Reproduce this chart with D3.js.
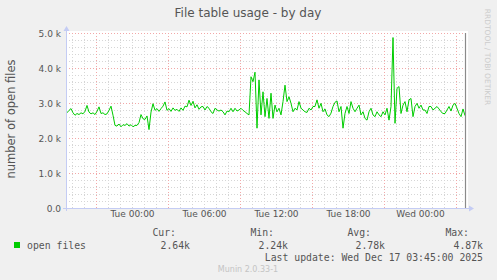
<!DOCTYPE html>
<html><head><meta charset="utf-8">
<script src="https://cdn.jsdelivr.net/npm/d3@7"></script>
<style>
html,body{margin:0;padding:0;background:#F0F0F0;}
svg{display:block;}
</style></head>
<body>
<script>
// ---- data (open files, 10-minute samples, ending Wed Dec 17 03:45) ----
const title = "File table usage - by day";
const yLabel = "number of open files";
const seriesName = "open files";
const lastUpdate = "Wed Dec 17 03:45:00 2025";
const legendHeaders = ["Cur:", "Min:", "Avg:", "Max:"];
const legendValues = ["2.64k", "2.24k", "2.78k", "4.87k"];
const yTicks = [0, 1000, 2000, 3000, 4000, 5000];
const openFiles = [
 2.72,2.79,2.84,2.72,2.65,2.70,2.67,2.72,2.69,2.76,2.93,2.74,2.69,2.72,2.67,2.76,2.89,2.70,2.72,2.67,2.69,2.79,2.91,2.65,2.36,2.34,2.40,2.32,2.38,2.36,2.41,2.34,2.38,2.32,2.36,
 2.36,2.44,2.67,2.55,2.53,2.63,2.24,2.74,2.98,2.79,2.84,2.76,2.84,2.91,3.03,2.79,2.84,2.76,2.86,2.79,2.82,2.76,2.86,2.79,2.91,2.89,3.08,2.93,3.05,2.86,2.95,2.82,2.89,
 2.90,2.80,2.90,2.85,2.75,2.70,2.85,2.80,2.77,2.80,2.75,2.66,2.77,2.75,2.85,2.75,2.85,2.77,2.80,2.85,2.79,2.75,2.70,2.66,3.75,3.61,3.88,2.28,3.66,2.66,3.32,2.61,3.13,
 2.56,3.28,2.56,2.94,2.75,2.85,2.66,3.04,3.51,3.04,3.18,2.99,2.75,2.85,2.80,3.04,2.85,2.80,2.75,2.73,2.85,2.80,2.90,2.90,3.09,2.85,2.99,2.75,2.83,2.66,2.61,2.71,2.90,3.02,3.06,
 2.75,2.90,2.28,2.70,2.90,2.70,3.04,2.85,2.75,2.85,2.94,2.66,2.75,2.56,2.51,2.75,2.85,2.66,2.61,2.75,2.66,2.61,2.75,2.66,2.85,2.51,2.90,4.87,2.42,3.42,3.47,2.70,2.94,3.04,
 2.75,3.09,3.13,2.61,2.90,2.99,2.85,2.94,2.80,2.80,2.70,2.90,2.90,2.80,2.85,2.90,2.83,2.75,2.70,2.70,2.80,2.90,2.77,2.94,2.99,2.85,2.70,2.61,2.83,2.64
];
const endTime = new Date(2025, 11, 17, 3, 45);
const stepMinutes = 10;

// ---- layout ----
const W = 497, H = 280;
const svg = d3.select("body").append("svg").attr("width", W).attr("height", H);
svg.append("rect").attr("width", W).attr("height", H).attr("fill", "#F0F0F0");

const domainStart = new Date(2025, 11, 15, 18, 30);
const domainEnd = new Date(2025, 11, 17, 3, 50);
const x = d3.scaleTime().domain([domainStart, domainEnd]).range([66, 466]);
const y = d3.scaleLinear().domain([0, 5000]).range([208, 33]);

const data = openFiles.map((v, i) => ({
  t: new Date(endTime.getTime() - (openFiles.length - 1 - i) * stepMinutes * 60000),
  v: v * 1000
}));

// canvas
svg.append("rect").attr("x", 66).attr("y", 31).attr("width", 402).attr("height", 177).attr("fill", "#FFFFFF");

const grid = svg.append("g");
d3.range(200, 5000, 200).filter(v => v % 1000 !== 0).forEach(v => {
  grid.append("line").attr("x1", 66).attr("x2", 466).attr("y1", y(v) + 0.5).attr("y2", y(v) + 0.5)
    .attr("stroke", "#D6D6D6").attr("stroke-dasharray", "1,2");
});
const hours = d3.timeHour.range(domainStart, domainEnd);
hours.filter(h => h.getHours() % 6 !== 3).forEach(h => {
  grid.append("line").attr("x1", Math.round(x(h)) + 0.5).attr("x2", Math.round(x(h)) + 0.5).attr("y1", 33).attr("y2", 208)
    .attr("stroke", "#D6D6D6").attr("stroke-dasharray", "1,2");
});
yTicks.filter(v => v > 0).forEach(v => {
  grid.append("line").attr("x1", 66).attr("x2", 466).attr("y1", y(v) + 0.5).attr("y2", y(v) + 0.5)
    .attr("stroke", "#F2A8A8").attr("stroke-dasharray", "1,2");
});
hours.filter(h => h.getHours() % 6 === 3).forEach(h => {
  grid.append("line").attr("x1", Math.round(x(h)) + 0.5).attr("x2", Math.round(x(h)) + 0.5).attr("y1", 33).attr("y2", 208)
    .attr("stroke", "#F2A8A8").attr("stroke-dasharray", "1,2");
});

// y tick labels
const yAxis = d3.axisLeft(y).tickValues(yTicks).tickSize(0).tickPadding(0)
  .tickFormat(v => v === 0 ? "0.0" : (v / 1000).toFixed(1) + " k");
const gy = svg.append("g").attr("transform", "translate(61,0)").call(yAxis);
gy.select(".domain").remove();
gy.selectAll("text").attr("font-family", "DejaVu Sans").attr("font-size", 9).attr("fill", "#555").attr("dy", "0.35em");

// x tick labels
const labelTimes = d3.timeHour.range(domainStart, domainEnd).filter(h => h.getHours() % 6 === 0);
const xAxis = d3.axisBottom(x).tickValues(labelTimes).tickSize(0).tickPadding(0)
  .tickFormat(d3.timeFormat("%a %H:%M"));
const gx = svg.append("g").attr("transform", "translate(0,211)").call(xAxis);
gx.select(".domain").remove();
gx.selectAll("text").attr("font-family", "DejaVu Sans").attr("font-size", 9).attr("fill", "#555").attr("dy", "0.71em");

// data line
const line = d3.line().x(d => x(d.t)).y(d => y(d.v));
svg.append("path").datum(data).attr("d", line).attr("fill", "none").attr("stroke", "#00CC00").attr("stroke-width", 1);

// now marker
svg.append("line").attr("x1", 465.5).attr("x2", 465.5).attr("y1", 33).attr("y2", 208).attr("stroke", "#8A8A8A").attr("stroke-width", 1.2);

// axes with arrows
const axisColor = "#C4CCF4";
svg.append("line").attr("x1", 63).attr("x2", 470).attr("y1", 208.5).attr("y2", 208.5).attr("stroke", axisColor);
svg.append("path").attr("d", "M469,205.5 L474,208.5 L469,211.5 Z").attr("fill", axisColor);
svg.append("line").attr("x1", 66.5).attr("x2", 66.5).attr("y1", 211).attr("y2", 30).attr("stroke", axisColor);
svg.append("path").attr("d", "M63.5,31 L66.5,26 L69.5,31 Z").attr("fill", axisColor);

// title
svg.append("text").attr("x", 248).attr("y", 17).attr("text-anchor", "middle")
  .attr("font-family", "DejaVu Sans").attr("font-size", 12).attr("fill", "#555").text(title);

// y label
svg.append("text").attr("transform", "translate(15,119) rotate(-90)").attr("text-anchor", "middle")
  .attr("font-family", "DejaVu Sans").attr("font-size", 11.5).attr("fill", "#555").text(yLabel);

// watermark
svg.append("text").attr("transform", "translate(485,57) rotate(90)").attr("text-anchor", "middle")
  .attr("font-family", "DejaVu Sans").attr("font-size", 7.5).attr("fill", "#CCCCCC").text("RRDTOOL / TOBI OETIKER");

// legend
const mono = "DejaVu Sans Mono";
const headerRight = [176, 274, 371, 469];
const valueRight = [190, 288, 385, 483];
legendHeaders.forEach((h, i) => {
  svg.append("text").attr("x", headerRight[i]).attr("y", 236).attr("text-anchor", "end")
    .attr("font-family", mono).attr("font-size", 9.8).attr("fill", "#555").text(h);
});
legendValues.forEach((v, i) => {
  svg.append("text").attr("x", valueRight[i]).attr("y", 248.5).attr("text-anchor", "end")
    .attr("font-family", mono).attr("font-size", 9.8).attr("fill", "#555").text(v);
});
svg.append("rect").attr("x", 14).attr("y", 242).attr("width", 6).attr("height", 6).attr("fill", "#00CC00");
svg.append("text").attr("x", 27).attr("y", 248.5).attr("font-family", mono).attr("font-size", 9.8).attr("fill", "#555").text(seriesName);
svg.append("text").attr("x", 483).attr("y", 260.5).attr("text-anchor", "end")
  .attr("font-family", mono).attr("font-size", 9.8).attr("fill", "#555").text("Last update: " + lastUpdate);

svg.append("text").attr("x", 248).attr("y", 272).attr("text-anchor", "middle")
  .attr("font-family", "DejaVu Sans").attr("font-size", 8).attr("fill", "#C4C4C4").text("Munin 2.0.33-1");
</script>
</body></html>
